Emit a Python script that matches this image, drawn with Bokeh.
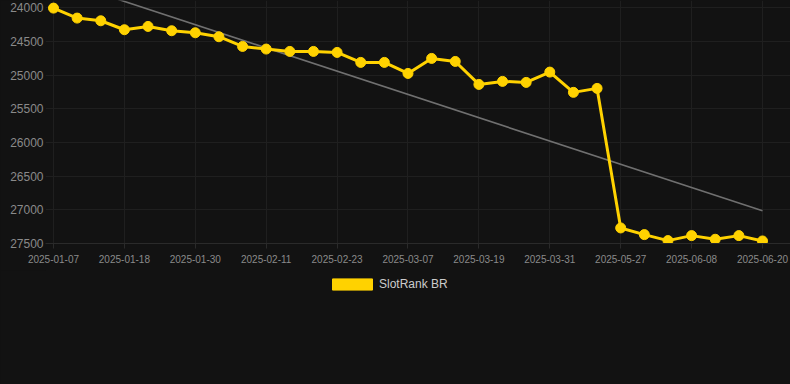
from bokeh.plotting import figure
from bokeh.layouts import column
from bokeh.models import (Range1d, FixedTicker, Legend, LegendItem, ColumnDataSource,
                          GlobalInlineStyleSheet)
from bokeh.embed import file_html
from bokeh.resources import INLINE

# ---- data ----
dates = ["2025-01-07", "2025-01-11", "2025-01-14", "2025-01-18", "2025-01-22", "2025-01-26",
         "2025-01-30", "2025-02-03", "2025-02-07", "2025-02-11", "2025-02-15", "2025-02-19",
         "2025-02-23", "2025-02-27", "2025-03-03", "2025-03-07", "2025-03-11", "2025-03-15",
         "2025-03-19", "2025-03-23", "2025-03-27", "2025-03-31", "2025-04-04", "2025-04-08",
         "2025-05-27", "2025-05-31", "2025-06-04", "2025-06-08", "2025-06-12", "2025-06-16",
         "2025-06-20"]
ranks = [24005, 24153, 24193, 24326, 24277, 24341, 24371, 24430, 24574, 24613, 24648, 24648,
         24663, 24811, 24811, 24975, 24752, 24797, 25138, 25093, 25108, 24955, 25256, 25197,
         27269, 27368, 27457, 27383, 27437, 27383, 27462]
trend_values = [23560, 27015]          # trend line at first and last date
y_ticks = [24000, 24500, 25000, 25500, 26000, 26500, 27000, 27500]
label_every = 3
series_name = "SlotRank BR"

GOLD = "#FFD200"
BG = "#121212"
FONT = "Liberation Sans"

idx = list(range(len(dates)))
src = ColumnDataSource(dict(x=idx, y=ranks))
trend_src = ColumnDataSource(dict(x=[idx[0], idx[-1]], y=trend_values))

p = figure(width=790, height=270, output_backend="svg", toolbar_location=None,
           x_range=Range1d(-0.3385, 31.185), y_range=Range1d(27500, 23892),
           background_fill_color=BG, border_fill_color=BG, outline_line_color=None,
           min_border_left=45, min_border_right=0, min_border_top=0, min_border_bottom=27)

p.line("x", "y", source=trend_src, line_color="#707070", line_width=1.6)
p.line("x", "y", source=src, line_color=GOLD, line_width=3)
p.scatter("x", "y", source=src, size=10, fill_color=GOLD, line_color=GOLD)

tick_pos = idx[::label_every]
p.xaxis.ticker = FixedTicker(ticks=tick_pos)
p.xaxis.major_label_overrides = {i: dates[i] for i in tick_pos}
p.yaxis.ticker = FixedTicker(ticks=y_ticks)

for ax in (p.xaxis[0], p.yaxis[0]):
    ax.major_label_text_font = FONT
    ax.major_label_text_color = "#8a8a8a"
    ax.minor_tick_line_color = None
p.xaxis.major_label_text_font_size = "10px"
p.yaxis.major_label_text_font_size = "12px"
p.xaxis.axis_line_color = "#2a2a2a"
p.xaxis.major_tick_line_color = "#2a2a2a"
p.xaxis.major_tick_in = 0
p.xaxis.major_tick_out = 5
p.xaxis.major_label_standoff = 6
p.yaxis.axis_line_color = None
p.yaxis.major_tick_line_color = None
p.yaxis.major_tick_in = 0
p.yaxis.major_tick_out = 0
p.yaxis.major_label_standoff = 2

p.xgrid.grid_line_color = "#1f1f1f"
p.ygrid.grid_line_color = "#1f1f1f"

# ---- legend strip below the chart ----
leg_fig = figure(width=790, height=114, output_backend="svg", toolbar_location=None,
                 x_range=Range1d(0, 1), y_range=Range1d(0, 1),
                 background_fill_color=BG, border_fill_color=BG, outline_line_color=None,
                 min_border=0, x_axis_type=None, y_axis_type=None)
leg_fig.grid.visible = False
nan = float("nan")
proxy = leg_fig.quad(left=[nan], right=[nan], top=[nan], bottom=[nan],
                     fill_color=GOLD, line_color=GOLD)   # legend-only swatch, draws nothing
legend = Legend(items=[LegendItem(label=series_name, renderers=[proxy])],
                location=(282, 93), orientation="horizontal",
                glyph_width=50, glyph_height=14, label_standoff=2, label_height=14,
                label_text_font=FONT, label_text_font_size="12px", label_text_color="#cccccc",
                background_fill_alpha=0, border_line_color=None, padding=0, margin=0)
leg_fig.add_layout(legend)

layout = column(p, leg_fig, spacing=0)
layout.stylesheets = [GlobalInlineStyleSheet(
    css="html, body { margin: 0; padding: 0; background: #121212; overflow: hidden; }")]

open("out.html", "w").write(file_html(layout, INLINE))
